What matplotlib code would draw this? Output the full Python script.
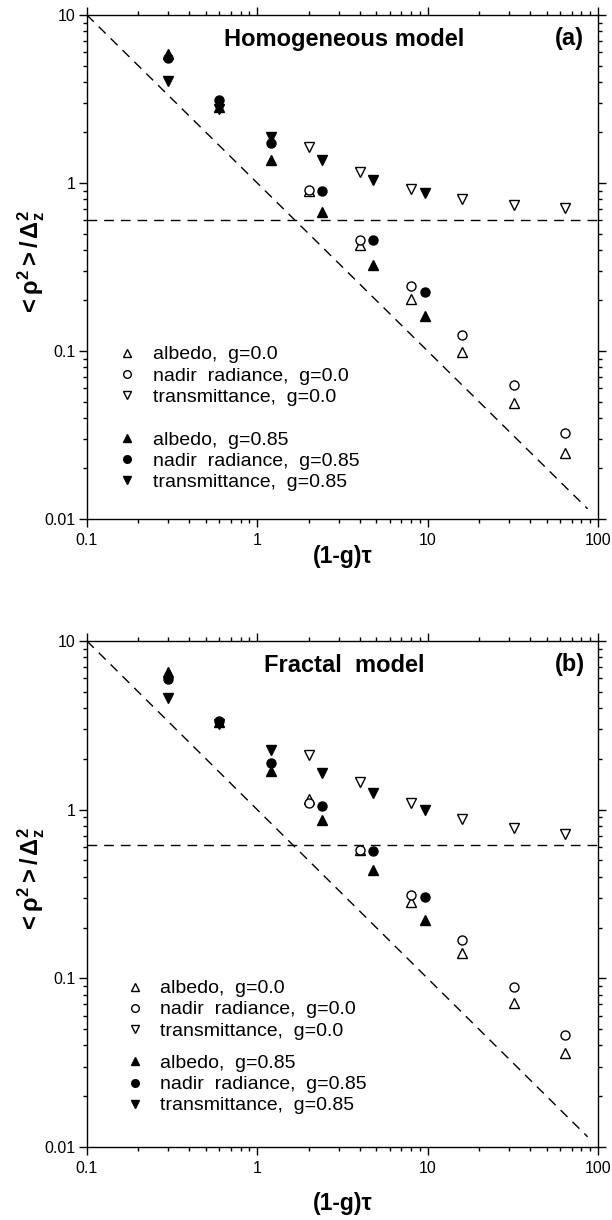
import numpy as np
import matplotlib
matplotlib.use("Agg")
from matplotlib import pyplot as plt
from matplotlib.lines import Line2D
from matplotlib.ticker import FuncFormatter, LogLocator, NullFormatter

plt.rcParams['font.family'] = ['Liberation Sans', 'DejaVu Sans']
plt.rcParams['mathtext.fontset'] = 'custom'
plt.rcParams['mathtext.rm'] = 'Liberation Sans'
plt.rcParams['mathtext.it'] = 'Liberation Sans:italic'
plt.rcParams['mathtext.bf'] = 'Liberation Sans:bold'

# scaled optical depth (1-g)*tau for tau = 2..64
x_g0 = [2, 4, 8, 16, 32, 64]
x_g85 = [0.3, 0.6, 1.2, 2.4, 4.8, 9.6]

# (a) homogeneous cloud
hom_albedo_g0 = [0.90, 0.43, 0.204, 0.099, 0.049, 0.0246]
hom_nadir_g0 = [0.91, 0.46, 0.245, 0.124, 0.063, 0.0323]
hom_trans_g0 = [1.64, 1.17, 0.917, 0.80, 0.74, 0.706]
hom_albedo_g85 = [5.87, 2.82, 1.38, 0.675, 0.325, 0.161]
hom_nadir_g85 = [5.52, 3.12, 1.74, 0.895, 0.458, 0.225]
hom_trans_g85 = [4.05, 2.75, 1.89, 1.37, 1.04, 0.868]
hom_asymptote = 0.60

# (b) fractal cloud
frac_albedo_g0 = [1.16, 0.58, 0.284, 0.141, 0.0718, 0.036]
frac_nadir_g0 = [1.10, 0.58, 0.311, 0.168, 0.089, 0.0464]
frac_trans_g0 = [2.10, 1.46, 1.10, 0.886, 0.78, 0.716]
frac_albedo_g85 = [6.58, 3.30, 1.70, 0.867, 0.437, 0.223]
frac_nadir_g85 = [5.95, 3.36, 1.90, 1.05, 0.569, 0.304]
frac_trans_g85 = [4.57, 3.20, 2.27, 1.66, 1.26, 1.00]
frac_asymptote = 0.62

# diffusion limit <rho^2>/dz^2 ~ 1/((1-g)tau)
diff_x = [0.1, 87.0]
diff_y = [10.0, 1.0 / 87.0]

labels = ['albedo,  g=0.0', 'nadir  radiance,  g=0.0', 'transmittance,  g=0.0',
          'albedo,  g=0.85', 'nadir  radiance,  g=0.85', 'transmittance,  g=0.85']
markers = ['^', 'o', 'v', '^', 'o', 'v']


def draw_panel(ax, series, asym, title, tag, leg_x, leg_y1, leg_y2):
    ax.set_xscale('log')
    ax.set_yscale('log')
    ax.set_xlim(0.1, 100)
    ax.set_ylim(0.01, 10)

    ax.plot(diff_x, diff_y, color='black', lw=1.0, dashes=(7, 5))
    ax.axhline(asym, color='black', lw=1.0, dashes=(7, 5))

    for i, ys in enumerate(series):
        filled = i >= 3
        xs = x_g85 if filled else x_g0
        ax.plot(xs, ys, ls='none', marker=markers[i], ms=7 if markers[i] != 'o' else 6.5,
                mfc='black' if filled else 'white', mec='black', mew=1.0)

    handles = [Line2D([], [], ls='none', marker=markers[i],
                      ms=6 if markers[i] != 'o' else 5.5,
                      mfc='black' if i >= 3 else 'white', mec='black', mew=1.0)
               for i in range(6)]
    leg_kw = dict(loc='upper left', frameon=False, fontsize=14, handlelength=1.0,
                  handletextpad=0.8, labelspacing=0.18, borderaxespad=0)
    leg1 = ax.legend(handles[:3], labels[:3], bbox_to_anchor=(leg_x, leg_y1), **leg_kw)
    ax.add_artist(leg1)
    ax.legend(handles[3:], labels[3:], bbox_to_anchor=(leg_x, leg_y2), **leg_kw)

    ax.text(0.504, 0.952, title, transform=ax.transAxes, ha='center', va='center',
            fontsize=17, fontweight='bold')
    ax.text(0.945, 0.953, tag, transform=ax.transAxes, ha='center', va='center',
            fontsize=17, fontweight='bold')

    fmt = FuncFormatter(lambda v, p: f'{v:g}')
    for axis in (ax.xaxis, ax.yaxis):
        axis.set_major_locator(LogLocator(base=10, numticks=10))
        axis.set_minor_locator(LogLocator(base=10, subs=np.arange(2, 10), numticks=10))
        axis.set_major_formatter(fmt)
        axis.set_minor_formatter(NullFormatter())
    ax.tick_params(which='both', direction='out', top=True, right=True, width=1.0,
                   labelsize=11.5)
    ax.tick_params(which='major', length=6)
    ax.tick_params(which='minor', length=3)
    ax.tick_params(axis='x', pad=4)
    ax.tick_params(axis='y', pad=2)
    for sp in ax.spines.values():
        sp.set_linewidth(1.0)

    ax.set_xlabel('(1-g)τ', fontsize=16.5, fontweight='bold')
    ax.set_ylabel(r'$\mathbf{<\rho^{2}>/\,\Delta_{z}^{2}}$', fontsize=17)


fig = plt.figure(figsize=(6.12, 12.2), dpi=100)
ax_a = fig.add_axes([0.142, 0.5746, 0.835, 0.4131])
ax_b = fig.add_axes([0.142, 0.0598, 0.835, 0.4148])

draw_panel(ax_a, [hom_albedo_g0, hom_nadir_g0, hom_trans_g0,
                  hom_albedo_g85, hom_nadir_g85, hom_trans_g85],
           hom_asymptote, 'Homogeneous model', '(a)', 0.045, 0.359, 0.190)
draw_panel(ax_b, [frac_albedo_g0, frac_nadir_g0, frac_trans_g0,
                  frac_albedo_g85, frac_nadir_g85, frac_trans_g85],
           frac_asymptote, 'Fractal  model', '(b)', 0.06, 0.346, 0.198)

ax_a.xaxis.set_label_coords(0.5, -0.052)
ax_b.xaxis.set_label_coords(0.5, -0.089)
ax_a.yaxis.set_label_coords(-0.078, 0.508)
ax_b.yaxis.set_label_coords(-0.078, 0.528)

fig.savefig('out.png', dpi=100)
